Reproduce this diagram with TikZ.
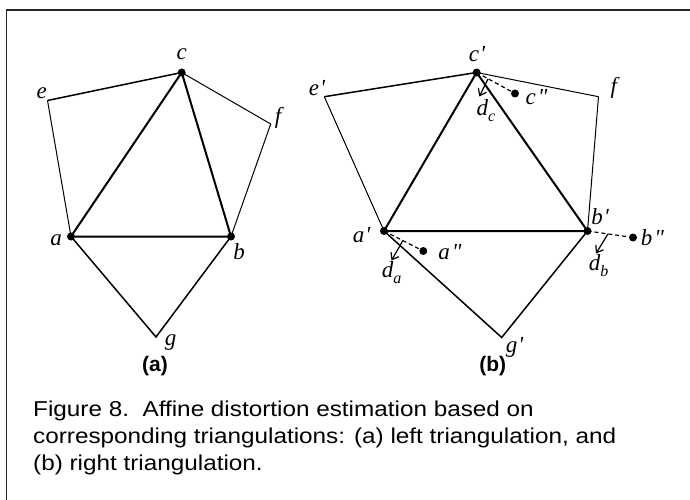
\documentclass[tikz,border=0pt]{standalone}
\usepackage{fontspec}
\setmainfont{Liberation Serif}
\newfontfamily\capfont[FakeStretch=1.13]{Liberation Sans}
\newfontfamily\panelfont{Liberation Sans}
\usetikzlibrary{arrows.meta,calc}
\begin{document}
\begin{tikzpicture}[x=1pt,y=-1pt,
  heavy/.style={line width=2pt},
  medium/.style={line width=1.5pt},
  light/.style={line width=1pt},
  vdot/.style={circle,fill=black,inner sep=0pt,minimum size=8pt},
  sdot/.style={circle,fill=black,inner sep=0pt,minimum size=8pt},
  lab/.style={font=\fontsize{23}{23}\selectfont\itshape,inner sep=0pt},
  panel/.style={font=\panelfont\bfseries\fontsize{21}{21}\selectfont,inner sep=0pt},
  capline/.style={font=\capfont\fontsize{21.5}{21.5}\selectfont,inner sep=0pt,anchor=base west},
  disp/.style={dashed,dash pattern=on 4pt off 3pt,line width=1.2pt},
  dvec/.style={line width=1.2pt,-{Straight Barb[length=6pt,width=9pt,line width=1.2pt]}},
  frame/.style={line width=1.5pt,draw=black!85}]
\useasboundingbox (0,0) rectangle (690,500);
% frame
\coordinate (fbl) at (6.5,500);
\coordinate (ftl) at (6.5,10);
\coordinate (ftr) at (690,10);
\draw[frame] (fbl) -- (ftl) -- (ftr);

% ---------- left triangulation ----------
\node[vdot] (c) at (181.7,72.5) {};
\node[vdot] (a) at (71,236.5) {};
\node[vdot] (b) at (231,236.5) {};
\coordinate (e) at (47.5,100.5);
\coordinate (f) at (270.7,124);
\coordinate (g) at (156,337);
\draw[medium] (e) -- (c.center);
\draw[light] (c.center) -- (f);
\draw[light] (e) -- (a.center);
\draw[light] (f) -- (b.center);
\draw[heavy] (a.center) -- (c.center) -- (b.center) -- cycle;
\draw[medium] (a.center) -- (g) -- (b.center);

\node[lab] (lc) at (181.7,54) {c};
\node[lab] (le) at (41.8,92.7) {e};
\node[lab] (lf) at (278,118) {f};
\node[lab] (la) at (56,240.5) {a};
\node[lab] (lb) at (239,252) {b};
\node[lab] (lg) at (170.7,343) {g};
\node[panel] (pa) at (155,366) {(a)};

% ---------- right triangulation ----------
\node[vdot] (c2) at (476.6,72.5) {};
\node[vdot] (a2) at (384,231) {};
\node[vdot] (b2) at (587.5,231) {};
\coordinate (e2) at (324.3,96.7);
\coordinate (f2) at (598.5,96.7);
\coordinate (g2) at (501.7,337.5);
\draw[medium] (e2) -- (c2.center);
\draw[light] (c2.center) -- (f2);
\draw[light] (e2) -- (a2.center);
\draw[light] (f2) -- (b2.center);
\draw[heavy] (a2.center) -- (c2.center) -- (b2.center) -- cycle;
\draw[medium] (a2.center) -- (g2) -- (b2.center);

% displaced points
\node[sdot] (c3) at (515,93.5) {};
\node[sdot] (a3) at (423.3,251) {};
\node[sdot] (b3) at (633,237.5) {};
\draw[disp] (c2.center) -- (c3);
\draw[disp] (a2.center) -- (a3);
\draw[disp] (b2.center) -- (b3);
\coordinate (dcs) at ($(c2.center)!0.3!(c3.center)$);
\coordinate (das) at ($(a2.center)!0.48!(a3.center)$);
\coordinate (dbs) at ($(b2.center)!0.45!(b3.center)$);
\coordinate (dce) at (479.3,96.5);
\coordinate (dae) at (391.5,260.5);
\coordinate (dbe) at (596,253.5);
\draw[dvec] (dcs) -- (dce);
\draw[dvec] (das) -- (dae);
\draw[dvec] (dbs) -- (dbe);

\node[lab] (lc2) at (477,54) {c\kern1pt\textquotesingle};
\node[lab] (le2) at (317,88.3) {e\kern1pt\textquotesingle};
\node[lab] (lf2) at (613.9,88.3) {f};
\node[lab] (la2) at (361.7,235) {a\kern1pt\textquotesingle};
\node[lab] (lb2) at (600,216.7) {b\kern1pt\textquotesingle};
\node[lab] (lg2) at (514.5,347) {g\kern1pt\textquotesingle};
\node[lab] (lc3) at (536.5,96.7) {c\kern2pt\textquotedbl};
\node[lab] (la3) at (450,251.7) {a\kern2pt\textquotedbl};
\node[lab] (lb3) at (652.5,237.3) {b\kern2pt\textquotedbl};
\node[lab] (ldc) at (486,111) {d\raisebox{-6pt}{\fontsize{16}{16}\selectfont c}};
\node[lab] (lda) at (391.5,272.5) {d\raisebox{-6pt}{\fontsize{16}{16}\selectfont a}};
\node[lab] (ldb) at (598.5,266) {d\raisebox{-6pt}{\fontsize{16}{16}\selectfont b}};
\node[panel] (pb) at (492.8,366) {(b)};

% ---------- caption ----------
\node[capline] (cap1) at (33,416.7) {Figure 8.\ \ Affine distortion estimation based on};
\node[capline] (cap2) at (33,443.4) {corresponding triangulations: (a) left triangulation, and};
\node[capline] (cap3) at (33,470) {(b) right triangulation.};
\end{tikzpicture}
\end{document}
